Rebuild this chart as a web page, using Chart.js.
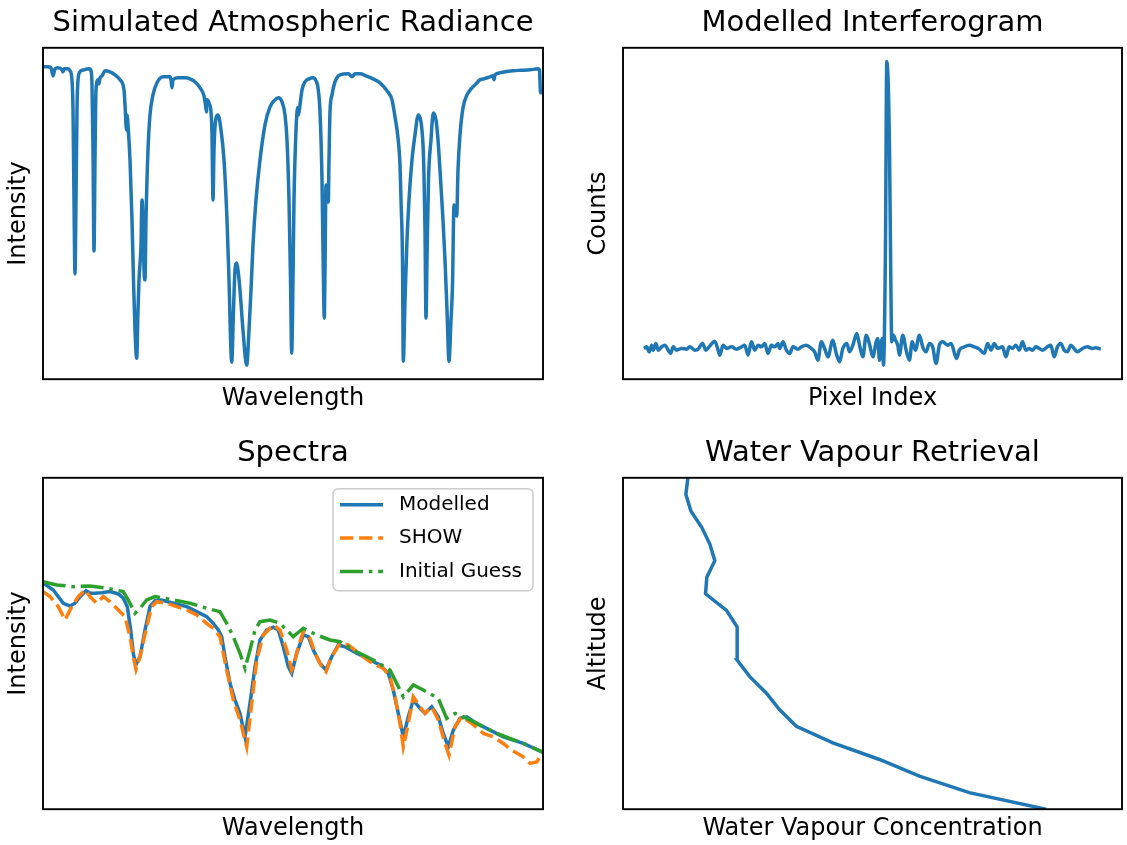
<!DOCTYPE html>
<html><head><meta charset="utf-8">
<script src="https://cdn.jsdelivr.net/npm/chart.js@4.4.0/dist/chart.umd.min.js"></script>
<style>
html,body{margin:0;padding:0;background:#fff;}
body{width:1127px;height:845px;position:relative;overflow:hidden;}
canvas{position:absolute;}
#c1{left:0;top:0;}
#c2{left:580px;top:0;}
#c3{left:0;top:430px;}
#c4{left:580px;top:430px;}
</style></head><body>
<canvas id="c1" width="563" height="423"></canvas>
<canvas id="c2" width="547" height="423"></canvas>
<canvas id="c3" width="563" height="415"></canvas>
<canvas id="c4" width="547" height="415"></canvas>
<script>
// ---------- Panel 1: simulated atmospheric radiance (arbitrary units) ----------
const radianceWavelength = [0,5,8,10,12,15,19,20,21,25,
27,29,30,31,32,33,34,35,37,41,
46,48,49,50,51,52,53,55,56,57,
59,62,67,72,77,81,82,83.5,84,85,
87,89,90.5,92,93.7,95,96,98,99,100,
101,102,103,105,107,110,114,120,127,128,
129,130,135,142,147,153,157,161,162.5,163.5,
164,166,168,169,170,171,173,175,178,181,
184,186,188.7,190.5,192,193.7,195,197,200,203.7,
206,208,210,213,217,222,227,232,235.3,239,
242,244,246,247.5,248.7,250,251,253,254,254.5,
255.5,257,259,262,266,270.3,273,275,277,279,
280,281.3,282,283,284,285.3,286,287,289,292,
297,305,307,309,312,317,323,330,337,344,
349,352,355,357,358,359.5,360.3,362,364,366,
369,372,375.3,378,380,381,382,383,384,385.5,
388,390.3,393,395,397,400,402,404,406,408,
409.5,411,412,413.7,415,417,420,424,429,434,
437,441,447,450,451,452,457,462,470,477,
487,495,496.5,497.5,499,500];
const radianceIntensity = [312,312,311,303,310,311,309,307,310,310,
308,299,269,179,105,179,269,299,307,309,
310,308,294,229,128,219,289,299,295,301,
303,308,307,304,299,289,274,249,264,254,
219,159,99,49,21,69,99,134,179,159,
109,99,159,229,264,284,296,302,302,299,
291,299,301,301,300,296,291,283,274,267,
279,276,267,244,179,229,261,264,249,219,
159,99,17,69,109,116,109,89,49,14,
49,89,134,179,219,254,272,279,281,277,
264,239,179,99,26,99,179,249,267,271,
264,274,289,297,300,301,298,291,267,199,
129,61,109,194,189,177,219,267,284,297,
304,305,304,302,305,305,303,300,296,288,
279,262,241,214,179,119,18,79,139,179,
219,244,264,257,234,204,149,61,119,199,
239,266,259,239,209,159,119,69,18,59,
94,174,169,163,209,244,271,284,291,296,
299,300,302,303,299,304,306,307,308,308.5,
309,310,309,286,286,287];

// ---------- Panel 2: modelled interferogram ----------
const pixelIndex = [21,23.7,26.3,28.7,30.3,33,35.3,38.7,42,45.3,
47.7,50.3,53.7,58.7,63.7,67,72,75.3,79.7,83,
86.3,92,95.3,97,100.3,103.7,108.7,113.7,118.7,122,
125.3,128.7,132,135.3,138.7,142,145.3,148.7,152,155.3,
157,160.3,163.7,167,170.3,175.3,178.7,183.7,188.7,192,
195.3,198.7,202,205.3,210.3,213.7,217,220.3,224.3,227,
230.3,234.3,237,240.3,243.7,247,250.3,253.7,255.3,257,
259.7,261,263,264.3,267,268,269.3,271,273,275.3,
277,280.3,283.7,287,289.7,293,297,300.3,303.7,307,
310.3,313.7,317,320.3,325.3,328.7,334.3,337,342,347,
352,357,362,365.3,368.7,372,375.3,380.3,383.7,387,
390.3,393.7,397,400.3,403.7,407,410.3,413.7,417,420.3,
425.3,428.7,432,435.3,438.7,442,445.3,448.7,452,455.3,
460.3,465.3,470.3,473.7,478.7];
const interferogramCounts = [30.7,32.3,27.3,34,29,35.7,29,32.3,34,29,
25.7,32.3,29,30.7,30,32.3,29,30,35.7,29,
32.3,38,29,24,34,30.7,32.3,30,32.3,34,
24,37.3,29,34,32.3,35.7,25.7,34,32.3,35.7,
30.7,37.3,29,25.7,32.3,30,32.3,34,30.7,27.3,
19,37.3,30.7,22.3,39,25.7,17.3,30.7,35.7,27.3,
34,45.7,34,22.3,44,35,22.3,37.3,40.7,19,
40.7,14,134,317.3,234,134,37.3,44,39,34,
24,44,29,19,37.3,29,44,32.3,27.3,35.7,
32.3,15.7,34,37.3,34,35.7,20.7,29,32.3,34,
32.3,30,25.7,35.7,29,35.7,30.7,32.3,22.3,32.3,
30.7,34,29,37.3,29,30.7,29,32.3,30.7,29,
32.3,34,22.3,32.3,35.7,29,27.3,34,30.7,27.3,
30.7,32.3,30.7,31.3,30];

// ---------- Panel 3: spectra ----------
const modelledWavelength = [0,10.3,20.3,27,32,37,43,47,52,58.7,
67,75.3,80.3,84.3,87.7,90.3,92.7,97,102,107,
112,118.7,130.3,143.7,153.7,163.7,170.3,175.3,178.7,182,
187,192,197,202,207,212,217,223.7,230.3,235.3,
240.3,245.3,248.7,253.7,260.3,265.3,270.3,277,283,288.7,
295.3,302,313.7,327,337,345.3,350.3,355.3,360.3,365.3,
370.3,377,382,388.7,395.3,400.3,405.3,410.3,417,423.7,
433.7,447,460.3,480.3,500];
const modelledIntensity = [226,219,205.7,203,205.7,212.3,218.3,215.7,215.7,216.3,
217.3,215,210.7,202.3,179,155.7,144,152.3,179,202.3,
208.3,209,205.7,202.3,197.3,192.3,185.7,179,172.3,152.3,
125.7,109,95.7,72.3,105.7,142.3,169,179,181.7,179,
162.3,142.3,135.7,155.7,174,172.3,159,145.7,139,152.3,
164,162.3,155.7,149,144,135.7,119,95.7,72.3,92.3,
109,100.7,95.7,102.3,92.3,75.7,62.3,79,90.7,92.3,
85.7,79,72.3,65.7,56.7];
const showWavelength = [0,7,15.3,22,28.7,35.3,42,47,53.7,60.3,
67,75.3,82,87,90.3,93,97,103.7,108.7,113.7,
123.7,133.7,143.7,153.7,163.7,170.3,177,183.7,190.3,197,
203.7,208.7,213.7,220.3,230.3,237,243.7,248.7,250.3,255.3,
260.3,267,272,278.7,283,288.7,297,305.3,313.7,327,
340.3,347,352,357,360.3,365.3,370.3,377,382,388.7,
395.3,402,406,412,418.7,428.7,440.3,450.3,460.3,468.7,
480.3,487,493.7,500];
const showIntensity = [217.3,212.3,202.3,189,202.3,212.3,219,212.3,205.7,212.3,
207.3,199,192.3,172.3,152.3,139.7,152.3,182.3,202.3,207.3,
205.7,202.3,199,194,185.7,180.7,172.3,139,109,89,
62.3,105.7,149,174,184,179,159,139,142.3,162.3,
177.3,170.7,155.7,142.3,137.3,152.3,165.7,164,157.3,147.3,
140.7,132.3,112.3,85.7,62.3,85.7,112.3,102.3,95.7,102.3,
89,65.7,54,82.3,92.3,85.7,75.7,72.3,65.7,59,
52.3,45.7,47.3,57];
const guessWavelength = [0,13.7,30.3,47,63.7,80.3,87,92,97,103.7,
112,130.3,147,163.7,177,183.7,190.3,197,202,207,
212,217,227,237,245.3,250.3,260.3,273.7,287,297,
313.7,330.3,347,353.7,360.3,370.3,380.3,395.3,403.7,412,
420.3,433.7,453.7,480.3,500];
const guessIntensity = [227.3,224,222.3,223,220.7,217.3,205.7,195.7,200.7,209,
212.3,209,205.7,200.7,197.3,185.7,172.3,155.7,140.7,159,
179,187.3,189,185.7,177.3,172.3,180.7,174,169,167.3,
157.3,149,139,125.7,112.3,124,119,110.7,90.7,95.7,
92.3,85.7,75.7,65.7,57];
const spectraLabels = ['Modelled', 'SHOW', 'Initial Guess'];

// ---------- Panel 4: water vapour retrieval ----------
const altitudeKm = [10,11,12,13,14,15,16,17,18,19,20,21,22,23,24,25,26,27,28,29,30];
const vapourConcentration = [4.237,3.47,2.97,2.57,2.103,1.737,1.57,1.437,1.27,1.143,1.145,1.143,1.037,0.827,0.84,0.92,0.87,0.79,0.68,0.63,0.65];

// ---------- styling / helpers ----------
const FONT = "'DejaVu Sans', 'Liberation Sans', sans-serif";
const C0 = '#1f77b4', C1 = '#ff7f0e', C2 = '#2ca02c';
const LW = 3.5;
Chart.defaults.font.family = FONT;
Chart.defaults.color = '#000';

const pts = (xs, ys) => xs.map((x, i) => ({x: x, y: ys[i]}));

const framePlugin = {
  id: 'frame',
  afterDatasetsDraw(chart) {
    const {ctx, chartArea: a} = chart;
    ctx.save();
    ctx.strokeStyle = '#000';
    ctx.lineWidth = 1.9;
    ctx.strokeRect(a.left, a.top, a.right - a.left, a.bottom - a.top);
    ctx.restore();
  }
};

const boxLegendPlugin = {
  id: 'boxLegend',
  afterDraw(chart) {
    const {ctx, chartArea: a} = chart;
    const w = 200, h = 102;
    const x0 = a.right - 10 - w, y0 = a.top + 11;
    ctx.save();
    ctx.beginPath();
    if (ctx.roundRect) ctx.roundRect(x0, y0, w, h, 5); else ctx.rect(x0, y0, w, h);
    ctx.fillStyle = 'rgba(255,255,255,0.8)';
    ctx.fill();
    ctx.strokeStyle = '#cccccc';
    ctx.lineWidth = 1.5;
    ctx.stroke();
    chart.data.datasets.forEach((ds, i) => {
      const cy = y0 + 16 + i * 33.3;
      ctx.beginPath();
      ctx.setLineDash(ds.borderDash || []);
      ctx.lineCap = 'butt';
      ctx.strokeStyle = ds.borderColor;
      ctx.lineWidth = ds.borderWidth;
      ctx.moveTo(x0 + 7, cy);
      ctx.lineTo(x0 + 50, cy);
      ctx.stroke();
      ctx.setLineDash([]);
      ctx.fillStyle = '#000';
      ctx.font = '20px ' + FONT;
      ctx.textBaseline = 'middle';
      ctx.textAlign = 'left';
      ctx.fillText(ds.label, x0 + 66, cy);
    });
    ctx.restore();
  }
};

function axis(title, min, max, pad) {
  return {
    type: 'linear', min: min, max: max, display: true,
    ticks: {display: false},
    grid: {display: false, drawTicks: false},
    border: {display: false},
    title: {display: true, text: title, color: '#000', font: {family: FONT, size: 24}, padding: pad}
  };
}

function makeOptions(cfg) {
  return {
    responsive: false,
    animation: false,
    layout: {padding: {left: 0, top: 0, right: cfg.padRight, bottom: cfg.padBottom}},
    plugins: {
      legend: {display: false},
      tooltip: {enabled: false},
      title: {display: true, text: cfg.title, fullSize: false, color: '#000',
        font: {family: FONT, size: 29, weight: 'normal'}, padding: {top: 6, bottom: 7}}
    },
    scales: {
      x: axis(cfg.xTitle, cfg.xMin, cfg.xMax, {top: 5, bottom: cfg.xTitleBottom}),
      y: axis(cfg.yTitle, cfg.yMin, cfg.yMax, {top: 4, bottom: 10.2})
    },
    elements: {point: {radius: 0, hoverRadius: 0}}
  };
}

// Panel 1
new Chart(document.getElementById('c1'), {
  type: 'line',
  data: {datasets: [{
    label: 'Radiance', data: pts(radianceWavelength, radianceIntensity),
    borderColor: C0, borderWidth: LW, fill: false, cubicInterpolationMode: 'monotone', clip: 0
  }]},
  options: makeOptions({title: 'Simulated Atmospheric Radiance', xTitle: 'Wavelength', yTitle: 'Intensity',
    xMin: 0, xMax: 500, yMin: 0, yMax: 331, padRight: 20, padBottom: 6, xTitleBottom: 4}),
  plugins: [framePlugin]
});

// Panel 2
new Chart(document.getElementById('c2'), {
  type: 'line',
  data: {datasets: [{
    label: 'Interferogram', data: pts(pixelIndex, interferogramCounts),
    borderColor: C0, borderWidth: LW, fill: false, cubicInterpolationMode: 'monotone', clip: 0
  }]},
  options: makeOptions({title: 'Modelled Interferogram', xTitle: 'Pixel Index', yTitle: 'Counts',
    xMin: 0, xMax: 500, yMin: 0, yMax: 331, padRight: 5, padBottom: 6, xTitleBottom: 4}),
  plugins: [framePlugin]
});

// Panel 3
new Chart(document.getElementById('c3'), {
  type: 'line',
  data: {datasets: [
    {label: spectraLabels[0], data: pts(modelledWavelength, modelledIntensity),
      borderColor: C0, borderWidth: LW, fill: false, tension: 0, order: 3, clip: 0},
    {label: spectraLabels[1], data: pts(showWavelength, showIntensity),
      borderColor: C1, borderWidth: LW, borderDash: [13.3, 5.8], fill: false, tension: 0, order: 2, clip: 0},
    {label: spectraLabels[2], data: pts(guessWavelength, guessIntensity),
      borderColor: C2, borderWidth: LW, borderDash: [23, 5.8, 3.6, 5.8], fill: false, tension: 0, order: 1, clip: 0}
  ]},
  options: makeOptions({title: 'Spectra', xTitle: 'Wavelength', yTitle: 'Intensity',
    xMin: 0, xMax: 500, yMin: 0, yMax: 331, padRight: 20, padBottom: 0, xTitleBottom: 2}),
  plugins: [framePlugin, boxLegendPlugin]
});

// Panel 4
new Chart(document.getElementById('c4'), {
  type: 'line',
  data: {datasets: [{
    label: 'Water Vapour', data: pts(vapourConcentration, altitudeKm),
    borderColor: C0, borderWidth: LW, fill: false, tension: 0, clip: 0
  }]},
  options: makeOptions({title: 'Water Vapour Retrieval', xTitle: 'Water Vapour Concentration', yTitle: 'Altitude',
    xMin: 0, xMax: 5, yMin: 10, yMax: 30, padRight: 5, padBottom: 0, xTitleBottom: 2}),
  plugins: [framePlugin]
});
</script>
</body></html>
